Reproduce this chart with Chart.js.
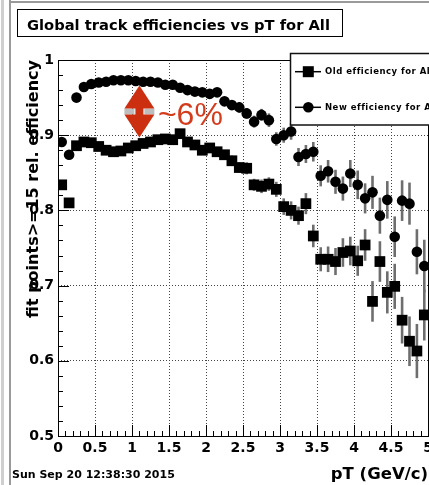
<!DOCTYPE html>
<html>
<head>
<meta charset="utf-8">
<script src="https://cdn.jsdelivr.net/npm/chart.js@4.4.0/dist/chart.umd.min.js"></script>
<style>
  html, body { margin: 0; padding: 0; overflow: hidden; background: #fff; width: 429px; height: 485px; }
  #wrap { position: relative; width: 460px; height: 485px; }
  canvas { display: block; }
</style>
</head>
<body>
<div id="wrap"><canvas id="c" width="460" height="485"></canvas></div>
<script>
// pT bin centres (GeV/c), 0.1 GeV/c wide bins
const ptBins = [0.05, 0.15, 0.25, 0.35, 0.45, 0.55, 0.65, 0.75, 0.85, 0.95,
                1.05, 1.15, 1.25, 1.35, 1.45, 1.55, 1.65, 1.75, 1.85, 1.95,
                2.05, 2.15, 2.25, 2.35, 2.45, 2.55, 2.65, 2.75, 2.85, 2.95,
                3.05, 3.15, 3.25, 3.35, 3.45, 3.55, 3.65, 3.75, 3.85, 3.95,
                4.05, 4.15, 4.25, 4.35, 4.45, 4.55, 4.65, 4.75, 4.85, 4.95];

// old reconstruction efficiency (squares)
const oldEff = [0.834, 0.810, 0.886, 0.891, 0.890, 0.885, 0.880, 0.878, 0.879, 0.883,
                0.886, 0.889, 0.891, 0.894, 0.895, 0.894, 0.902, 0.891, 0.887, 0.880,
                0.883, 0.878, 0.874, 0.866, 0.857, 0.856, 0.834, 0.832, 0.835, 0.828,
                0.805, 0.800, 0.793, 0.809, 0.766, 0.735, 0.735, 0.732, 0.744, 0.746,
                0.733, 0.754, 0.679, 0.732, 0.691, 0.699, 0.654, 0.626, 0.613, 0.661];
const oldErr = [0.003, 0.003, 0.003, 0.003, 0.003, 0.003, 0.003, 0.003, 0.003, 0.003,
                0.003, 0.003, 0.004, 0.004, 0.004, 0.004, 0.004, 0.005, 0.005, 0.005,
                0.005, 0.006, 0.006, 0.007, 0.007, 0.008, 0.008, 0.009, 0.009, 0.010,
                0.011, 0.012, 0.012, 0.014, 0.015, 0.016, 0.017, 0.018, 0.019, 0.019,
                0.020, 0.021, 0.027, 0.027, 0.028, 0.030, 0.031, 0.033, 0.036, 0.034];

// new reconstruction efficiency (circles)
const newEff = [0.891, 0.874, 0.950, 0.964, 0.968, 0.970, 0.971, 0.973, 0.973, 0.973,
                0.972, 0.971, 0.971, 0.970, 0.967, 0.967, 0.963, 0.960, 0.958, 0.957,
                0.955, 0.957, 0.945, 0.940, 0.937, 0.929, 0.918, 0.927, 0.920, 0.895,
                0.900, 0.905, 0.871, 0.875, 0.878, 0.846, 0.852, 0.838, 0.829, 0.849,
                0.834, 0.816, 0.824, 0.793, 0.814, 0.765, 0.813, 0.809, 0.745, 0.726];
const newErr = [0.003, 0.003, 0.003, 0.003, 0.003, 0.003, 0.003, 0.003, 0.003, 0.003,
                0.003, 0.003, 0.004, 0.004, 0.004, 0.004, 0.004, 0.005, 0.005, 0.005,
                0.005, 0.006, 0.006, 0.006, 0.007, 0.007, 0.008, 0.008, 0.009, 0.009,
                0.010, 0.011, 0.012, 0.012, 0.013, 0.014, 0.015, 0.016, 0.016, 0.018,
                0.019, 0.020, 0.022, 0.024, 0.025, 0.027, 0.027, 0.028, 0.030, 0.035];

const xTickLabels = ['0', '0.5', '1', '1.5', '2', '2.5', '3', '3.5', '4', '4.5', '5'];
const yTickLabels = ['0.5', '0.6', '0.7', '0.8', '0.9', '1'];
const seriesNames = ['Old efficiency for All', 'New efficiency for All'];
const titleText = 'Global track efficiencies vs pT for All';
const xTitle = 'pT (GeV/c)';
const yTitle = 'fit points>=15 rel. efficiency';
const stampText = 'Sun Sep 20 12:38:30 2015';

// annotation: double arrow spanning the gap between the two curves
const gapArrow = { x: 1.1, low: 0.897, high: 0.966 };
const gapLabel = { x: 1.35, y: 0.9136, text: '~6%' };

const BOLD = '"DejaVu Sans", sans-serif';
const RED = '#cc2e10';

const rootDecor = {
  id: 'rootDecor',
  beforeDatasetsDraw(chart) {
    const { ctx, chartArea: a, scales: { x, y } } = chart;
    ctx.save();
    // inner tick marks, ROOT style
    ctx.strokeStyle = '#000';
    ctx.lineWidth = 1;
    ctx.beginPath();
    for (let i = 0; i <= 50; i++) {
      const px = Math.round(x.getPixelForValue(i * 0.1)) + 0.5;
      const len = (i % 5 === 0) ? 11 : 5;
      ctx.moveTo(px, a.bottom);
      ctx.lineTo(px, a.bottom - len);
    }
    for (let i = 0; i <= 25; i++) {
      const py = Math.round(y.getPixelForValue(0.5 + i * 0.02)) + 0.5;
      const len = (i % 5 === 0) ? 11 : 5;
      ctx.moveTo(a.left, py);
      ctx.lineTo(a.left + len, py);
    }
    ctx.stroke();

    // vertical error bars
    ctx.strokeStyle = '#6e6e6e';
    ctx.lineWidth = 2.6;
    const errs = [oldErr, newErr];
    chart.data.datasets.forEach((ds, di) => {
      const meta = chart.getDatasetMeta(di);
      meta.data.forEach((pt, i) => {
        const e = errs[di][i];
        const v = ds.data[i].y;
        ctx.beginPath();
        ctx.moveTo(pt.x, y.getPixelForValue(v - e));
        ctx.lineTo(pt.x, y.getPixelForValue(v + e));
        ctx.stroke();
      });
    });
    ctx.restore();
  },
  afterDatasetsDraw(chart) {
    const { ctx, chartArea: a, scales: { x, y } } = chart;
    ctx.save();
    // frame
    ctx.strokeStyle = '#000';
    ctx.lineWidth = 1;
    ctx.strokeRect(Math.round(a.left) + 0.5, Math.round(a.top) + 0.5,
                   Math.round(a.right - a.left), Math.round(a.bottom - a.top));

    // double arrow
    const ax = x.getPixelForValue(gapArrow.x);
    const yt = y.getPixelForValue(gapArrow.high);
    const yb = y.getPixelForValue(gapArrow.low);
    const head = 23, hw = 15;
    const midTop = yt + head, midBot = yb - head;
    ctx.fillStyle = '#bdbdbd';
    ctx.fillRect(ax - hw, midTop, 10, midBot - midTop);
    ctx.fillRect(ax + hw - 10, midTop, 10, midBot - midTop);
    ctx.fillStyle = RED;
    ctx.fillRect(ax - 4, midTop - 1, 8, midBot - midTop + 2);
    ctx.beginPath();
    ctx.moveTo(ax, yt); ctx.lineTo(ax + hw, midTop); ctx.lineTo(ax - hw, midTop); ctx.closePath();
    ctx.fill();
    ctx.beginPath();
    ctx.moveTo(ax, yb); ctx.lineTo(ax + hw, midBot); ctx.lineTo(ax - hw, midBot); ctx.closePath();
    ctx.fill();

    // difference label
    ctx.fillStyle = '#d33c1c';
    ctx.font = '32px "Liberation Sans", Arial, sans-serif';
    ctx.textAlign = 'left';
    ctx.textBaseline = 'alphabetic';
    ctx.fillText(gapLabel.text, x.getPixelForValue(gapLabel.x), y.getPixelForValue(gapLabel.y));
    ctx.restore();
  },
  afterDraw(chart) {
    const { ctx } = chart;
    ctx.save();
    // legend
    ctx.fillStyle = '#fff';
    ctx.fillRect(290.5, 53.5, 200, 71.5);
    ctx.strokeStyle = '#111';
    ctx.lineWidth = 1.5;
    ctx.strokeRect(290.5, 53.5, 200, 71.5);
    const rows = [71.7, 107.3];
    rows.forEach((ry, i) => {
      ctx.strokeStyle = '#000';
      ctx.lineWidth = 1.5;
      ctx.beginPath();
      ctx.moveTo(295, ry); ctx.lineTo(321, ry);
      ctx.stroke();
      ctx.fillStyle = '#000';
      if (i === 0) {
        ctx.fillRect(308.3 - 5.5, ry - 5.5, 11, 11);
      } else {
        ctx.beginPath();
        ctx.arc(308.3, ry, 5.3, 0, Math.PI * 2);
        ctx.fill();
      }
      ctx.font = 'bold 8.5px ' + BOLD;
      ctx.letterSpacing = '0.5px';
      ctx.textAlign = 'left';
      ctx.textBaseline = 'middle';
      ctx.fillText(seriesNames[i], 325, ry + 0.5);
    });
    ctx.letterSpacing = '0px';

    // title box
    ctx.fillStyle = '#fff';
    ctx.fillRect(17.5, 9.5, 325, 27);
    ctx.strokeStyle = '#000';
    ctx.lineWidth = 1;
    ctx.strokeRect(17.5, 9.5, 325, 27);
    ctx.fillStyle = '#000';
    ctx.font = 'bold 14.7px ' + BOLD;
    ctx.textAlign = 'left';
    ctx.textBaseline = 'alphabetic';
    ctx.fillText(titleText, 27, 30);

    // date stamp
    ctx.font = 'bold 11px ' + BOLD;
    ctx.fillText(stampText, 12, 477.5);

    // window edges
    ctx.fillStyle = '#cfcfcf';
    ctx.fillRect(1, 0, 3, 485);
    ctx.fillStyle = '#9a9a9a';
    ctx.fillRect(9, 0, 2, 485);
    ctx.fillRect(9, 1, 460, 2);
    ctx.restore();
  }
};

const mkData = (vals) => ptBins.map((p, i) => ({ x: p, y: vals[i] }));

new Chart(document.getElementById('c'), {
  type: 'scatter',
  data: {
    datasets: [
      { label: seriesNames[0], data: mkData(oldEff), pointStyle: 'rect', pointRadius: 7.6,
        backgroundColor: '#000', borderWidth: 0, borderColor: '#000' },
      { label: seriesNames[1], data: mkData(newEff), pointStyle: 'circle', pointRadius: 5.3,
        backgroundColor: '#000', borderWidth: 0, borderColor: '#000' }
    ]
  },
  options: {
    responsive: false,
    animation: false,
    devicePixelRatio: 1,
    layout: { padding: { left: 0, top: 60, right: 32, bottom: 0 } },
    plugins: { legend: { display: false }, tooltip: { enabled: false } },
    scales: {
      x: {
        type: 'linear', min: 0, max: 5,
        afterFit: (s) => { s.height = 49; },
        grid: { color: '#444', lineWidth: 1, drawTicks: false },
        border: { display: false, dash: [1, 2] },
        ticks: {
          stepSize: 0.5, autoSkip: false, maxRotation: 0, padding: 4, color: '#000',
          font: { family: BOLD, size: 14, weight: 'bold' },
          callback: (v, i) => xTickLabels[i]
        },
        title: {
          display: true, text: xTitle, align: 'end', color: '#000',
          font: { family: BOLD, size: 16.5, weight: 'bold' },
          padding: { top: 0, bottom: 0 }
        }
      },
      y: {
        type: 'linear', min: 0.5, max: 1,
        afterFit: (s) => { s.width = 58; },
        grid: { color: '#444', lineWidth: 1, drawTicks: false },
        border: { display: false, dash: [1, 2] },
        ticks: {
          stepSize: 0.1, padding: 4, color: '#000',
          font: { family: BOLD, size: 14, weight: 'bold' },
          callback: (v, i) => yTickLabels[i]
        },
        title: {
          display: true, text: yTitle, align: 'end', color: '#000',
          font: { family: BOLD, size: 16, weight: 'bold' },
          padding: { top: 24, bottom: 0 }
        }
      }
    }
  },
  plugins: [rootDecor]
});
</script>
</body>
</html>
